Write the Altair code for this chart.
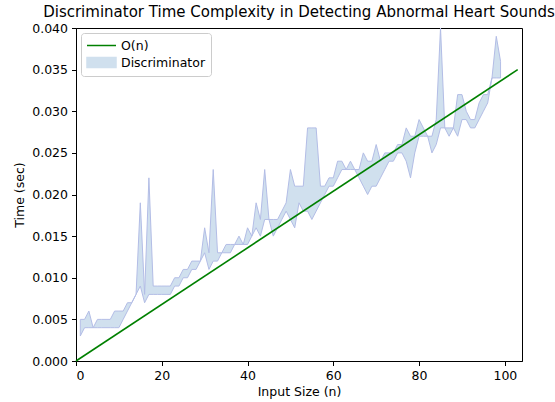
import altair as alt
import pandas as pd

# ---- data ----
n_values = list(range(1, 100))

upper_sec = [
    0.005, 0.005, 0.006, 0.004, 0.005, 0.005, 0.005, 0.005, 0.006, 0.006,
    0.006, 0.007, 0.007, 0.008, 0.019, 0.008, 0.022, 0.009, 0.009, 0.009,
    0.009, 0.009, 0.010, 0.010, 0.011, 0.011, 0.012, 0.012, 0.012, 0.016,
    0.013, 0.023, 0.013, 0.013, 0.014, 0.014, 0.014, 0.015, 0.014, 0.016,
    0.015, 0.019, 0.017, 0.023, 0.017, 0.017, 0.017, 0.018, 0.019, 0.023,
    0.021, 0.021, 0.021, 0.028, 0.028, 0.028, 0.021, 0.021, 0.022, 0.022,
    0.024, 0.024, 0.023, 0.024, 0.023, 0.023, 0.025, 0.024, 0.024, 0.026,
    0.024, 0.025, 0.025, 0.025, 0.026, 0.026, 0.028, 0.027, 0.027, 0.029,
    0.028, 0.027, 0.027, 0.029, 0.040, 0.028, 0.028, 0.028, 0.032, 0.032,
    0.030, 0.029, 0.029, 0.031, 0.032, 0.032, 0.034, 0.039, 0.036,
]

lower_sec = [
    0.003, 0.004, 0.004, 0.004, 0.004, 0.004, 0.004, 0.004, 0.004, 0.004,
    0.005, 0.006, 0.007, 0.008, 0.009, 0.007, 0.008, 0.008, 0.008, 0.008,
    0.008, 0.008, 0.009, 0.009, 0.010, 0.010, 0.011, 0.011, 0.012, 0.013,
    0.011, 0.012, 0.012, 0.013, 0.013, 0.013, 0.014, 0.014, 0.014, 0.014,
    0.015, 0.016, 0.015, 0.017, 0.017, 0.015, 0.016, 0.017, 0.018, 0.017,
    0.016, 0.019, 0.018, 0.018, 0.017, 0.018, 0.019, 0.020, 0.021, 0.021,
    0.022, 0.023, 0.023, 0.023, 0.023, 0.022, 0.021, 0.020, 0.021, 0.021,
    0.022, 0.023, 0.024, 0.024, 0.025, 0.025, 0.024, 0.022, 0.025, 0.027,
    0.027, 0.027, 0.025, 0.026, 0.028, 0.028, 0.027, 0.028, 0.027, 0.029,
    0.029, 0.028, 0.028, 0.029, 0.030, 0.031, 0.034, 0.034, 0.034,
]

on_x = [0, 103]
on_y = [0.0, 0.035]

series_names = ["O(n)", "Discriminator"]
x_ticks = [0, 20, 40, 60, 80, 100]
y_ticks = [0.000, 0.005, 0.010, 0.015, 0.020, 0.025, 0.030, 0.035, 0.040]

# ---- styling ----
FONT = "DejaVu Sans"
GREEN = "#008000"
BAND_FILL = "#d0e0ee"
BAND_EDGE = "#b3bde6"

band_df = pd.DataFrame({"n": n_values, "upper": upper_sec, "lower": lower_sec,
                        "series": series_names[1]})
line_df = pd.DataFrame({"n": on_x, "t": on_y, "series": series_names[0]})

color_scale = alt.Scale(domain=series_names, range=[GREEN, BAND_FILL])

is_line = "datum.value === 'O(n)'"
LINE_PATH = "M-2.3,0H2.3"
PATCH_PATH = "M-2.3,-0.8H2.3V0.8H-2.3Z"
legend = alt.Legend(
    title=None,
    orient="top-left",
    offset=5,
    symbolSize=159,
    symbolType=alt.ExprRef(f"({is_line} ? '{LINE_PATH}' : '{PATCH_PATH}')"),
    symbolStrokeColor=alt.ExprRef(f"({is_line} ? '{GREEN}' : '{BAND_EDGE}')"),
    symbolFillColor=alt.ExprRef(f"({is_line} ? 'transparent' : '{BAND_FILL}')"),
    symbolStrokeWidth=1.5,
    symbolOpacity=1,
    symbolOffset=8,
    labelFont=FONT,
    labelFontSize=12.5,
    labelColor="black",
    labelOffset=12,
    rowPadding=2,
    padding=5,
    strokeColor="#cccccc",
    fillColor="white",
    cornerRadius=3,
)

x_enc = alt.X(
    "n:Q",
    scale=alt.Scale(domain=[0, 104], nice=False, zero=False),
    axis=alt.Axis(values=x_ticks, title="Input Size (n)", format="d"),
)
y_axis = alt.Axis(values=y_ticks, format=".3f", title="Time (sec)")
y_scale = alt.Scale(domain=[0, 0.04], nice=False)

band = alt.Chart(band_df).mark_area(
    stroke=BAND_EDGE, strokeWidth=1, opacity=1, interpolate="linear"
).encode(
    x=x_enc,
    y=alt.Y("upper:Q", scale=y_scale, axis=y_axis),
    y2="lower:Q",
    color=alt.Color("series:N", scale=color_scale, legend=legend),
)

line = alt.Chart(line_df).mark_line(strokeWidth=1.6).encode(
    x=x_enc,
    y=alt.Y("t:Q", scale=y_scale, axis=y_axis),
    color=alt.Color("series:N", scale=color_scale, legend=legend),
)

chart = alt.layer(band, line).properties(
    width=446,
    height=333,
    padding={"left": 76, "top": 28, "right": 33, "bottom": 41},
    autosize="none",
    title=alt.TitleParams(
        "Discriminator Time Complexity in Detecting Abnormal Heart Sounds",
        font=FONT, fontSize=15, fontWeight="normal", color="black",
        anchor="middle", offset=2,
    ),
).configure_view(
    stroke="black", strokeWidth=1
).configure_axis(
    grid=False,
    domainColor="black",
    domainWidth=1,
    tickColor="black",
    tickSize=4.5,
    tickWidth=1,
    labelFont=FONT,
    labelFontSize=12.5,
    labelColor="black",
    labelPadding=4,
    titleFont=FONT,
    titleFontSize=12.5,
    titleFontWeight="normal",
    titleColor="black",
).configure_axisY(
    titlePadding=5,
).configure_axisX(
    titlePadding=3,
)

chart.save("out.html", embed_options={"renderer": "svg", "actions": False})
